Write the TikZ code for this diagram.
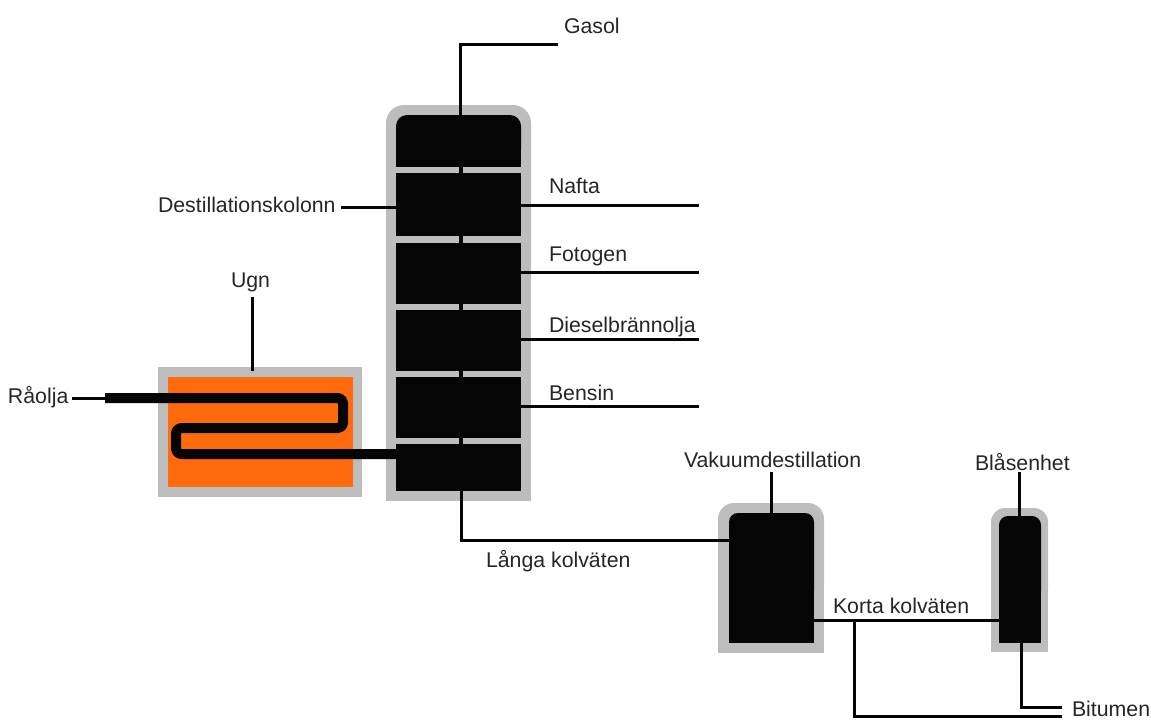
\documentclass[tikz,border=0pt]{standalone}
\usepackage{fontspec}
\setmainfont{Liberation Sans}
\definecolor{shell}{HTML}{BDBDBD}
\definecolor{ovenfill}{HTML}{FF6A0C}
\definecolor{ink}{HTML}{050505}
\definecolor{labelink}{HTML}{262626}
\tikzset{
  pipeline/.style={draw=ink,line width=3pt,line cap=butt,line join=miter},
  stem/.style={draw=ink,line width=4pt},
  heatcoil/.style={draw=ink,line width=10pt,line join=round,rounded corners=5pt},
  blockfill/.style={fill=ink},
  anchorbox/.style={inner sep=0pt,outer sep=0pt,minimum width=#1},
  tag/.style={anchor=base west,inner sep=0pt,outer sep=0pt,text=labelink,font=\fontsize{21.3}{24}\selectfont}
}
\begin{document}
\begin{tikzpicture}[x=1pt,y=-1pt]
\useasboundingbox (0,0) rectangle (1151,720);
\fill[white] (0,0) rectangle (1151,720);

% furnace
\fill[shell] (158,367) rectangle (362,497);
\fill[ovenfill] (168,377) rectangle (353,487);
\coordinate (ovenTop) at (252,371);

% column
\fill[shell,rounded corners=18pt] (386,300) -- (386,105) -- (531,105) -- (531,300) -- cycle;
\fill[shell] (386,280) rectangle (531,501);
\fill[ink,rounded corners=11pt] (396,160) -- (396,115) -- (521,115) -- (521,160) -- cycle;
\fill[blockfill] (396,150) rectangle (521,167);
\node[blockfill,anchorbox=125pt,minimum height=63pt] (secB) at (458.5,204.5) {};
\node[blockfill,anchorbox=125pt,minimum height=61pt] (secC) at (458.5,273.5) {};
\node[blockfill,anchorbox=125pt,minimum height=61pt] (secD) at (458.5,340.5) {};
\node[blockfill,anchorbox=125pt,minimum height=61pt] (secE) at (458.5,407.5) {};
\node[blockfill,anchorbox=125pt,minimum height=47pt] (secF) at (458.5,467.5) {};
\node[anchorbox=125pt,minimum height=52pt] (secA) at (458.5,141) {};

% vacuum unit
\fill[shell,rounded corners=16pt] (718,600) -- (718,503) -- (824,503) -- (824,600) -- cycle;
\fill[shell] (718,580) rectangle (824,653);
\fill[ink,rounded corners=9pt] (729,600) -- (729,513) -- (814,513) -- (814,600) -- cycle;
\node[blockfill,anchorbox=85pt,minimum height=63pt] (vacLow) at (771.5,611.5) {};
\node[anchorbox=85pt,minimum height=130pt] (vac) at (771.5,578) {};

% blower unit
\fill[shell,rounded corners=14pt] (991,600) -- (991,508) -- (1048,508) -- (1048,600) -- cycle;
\fill[shell] (991,580) rectangle (1048,652);
\fill[ink,rounded corners=9pt] (999,600) -- (999,516) -- (1041,516) -- (1041,600) -- cycle;
\node[blockfill,anchorbox=42pt,minimum height=63pt] (blowLow) at (1020,611.5) {};
\node[anchorbox=42pt,minimum height=127pt] (blow) at (1020,579.5) {};

% labels
\node[tag] (gasol) at (564,33) {Gasol};
\node[tag] (nafta) at (549,193) {Nafta};
\node[tag] (fotogen) at (549,261) {Fotogen};
\node[tag] (diesel) at (549,332) {Dieselbrännolja};
\node[tag] (bensin) at (549,400) {Bensin};
\node[tag] (kolonn) at (158,212) {Destillationskolonn};
\node[tag] (ugn) at (231,287) {Ugn};
\node[tag] (raolja) at (8,403) {Råolja};
\node[tag] (langa) at (486,567) {Långa kolväten};
\node[tag] (vakuum) at (684,467) {Vakuumdestillation};
\node[tag] (blas) at (975,470) {Blåsenhet};
\node[tag] (korta) at (833,613) {Korta kolväten};
\node[tag] (bitumen) at (1072,716) {Bitumen};

% free line ends
\coordinate (gasolEnd) at (558,44);
\coordinate (naftaEnd) at (699,205);
\coordinate (fotogenEnd) at (699,272);
\coordinate (dieselEnd) at (699,339);
\coordinate (bensinEnd) at (699,406);
\coordinate (ugnEnd) at (252,297);
\coordinate (kolonnEnd) at (341,207);
\coordinate (raoljaEnd) at (72,398);
\coordinate (coilStart) at (105,398);
\coordinate (vacEnd) at (771,472);
\coordinate (blowEnd) at (1019,472);
\coordinate (kortaY) at (0,620);
\coordinate (langaY) at (0,540);
\coordinate (branch) at (854,620);
\coordinate (bitA) at (1062,707);
\coordinate (bitB) at (1062,716);

% connectors
\draw[pipeline] (460,115) -- (460,44) -- (gasolEnd);
\draw[stem] (secA.south -| 461,0) -- (secB.north -| 461,0);
\draw[stem] (secB.south -| 461,0) -- (secC.north -| 461,0);
\draw[stem] (secC.south -| 461,0) -- (secD.north -| 461,0);
\draw[stem] (secD.south -| 461,0) -- (secE.north -| 461,0);
\draw[stem] (secE.south -| 461,0) -- (secF.north -| 461,0);
\draw[pipeline] (secB.east |- naftaEnd) -- (naftaEnd);
\draw[pipeline] (secC.east |- fotogenEnd) -- (fotogenEnd);
\draw[pipeline] (secD.east |- dieselEnd) -- (dieselEnd);
\draw[pipeline] (secE.east |- bensinEnd) -- (bensinEnd);
\draw[pipeline] (kolonnEnd) -- (secB.west |- kolonnEnd);
\draw[pipeline] (ugnEnd) -- (ovenTop);
\draw[pipeline] (raoljaEnd) -- (coilStart);
\draw[heatcoil] (coilStart) -- (343,398) -- (343,428) -- (176,428) -- (176,454) -- (secF.west |- 0,454);
\draw[pipeline] (secF.south -| 461,0) -- (461,540) -- (vac.west |- langaY);
\draw[pipeline] (vacEnd) -- (vac.north -| vacEnd);
\draw[pipeline] (blowEnd) -- (blow.north -| blowEnd);
\draw[pipeline] (vac.east |- kortaY) -- (blow.west |- kortaY);
\draw[pipeline] (branch) -- (854,716) -- (bitB);
\draw[pipeline] (blow.south -| 1021,0) -- (1021,707) -- (bitA);
\end{tikzpicture}
\end{document}
